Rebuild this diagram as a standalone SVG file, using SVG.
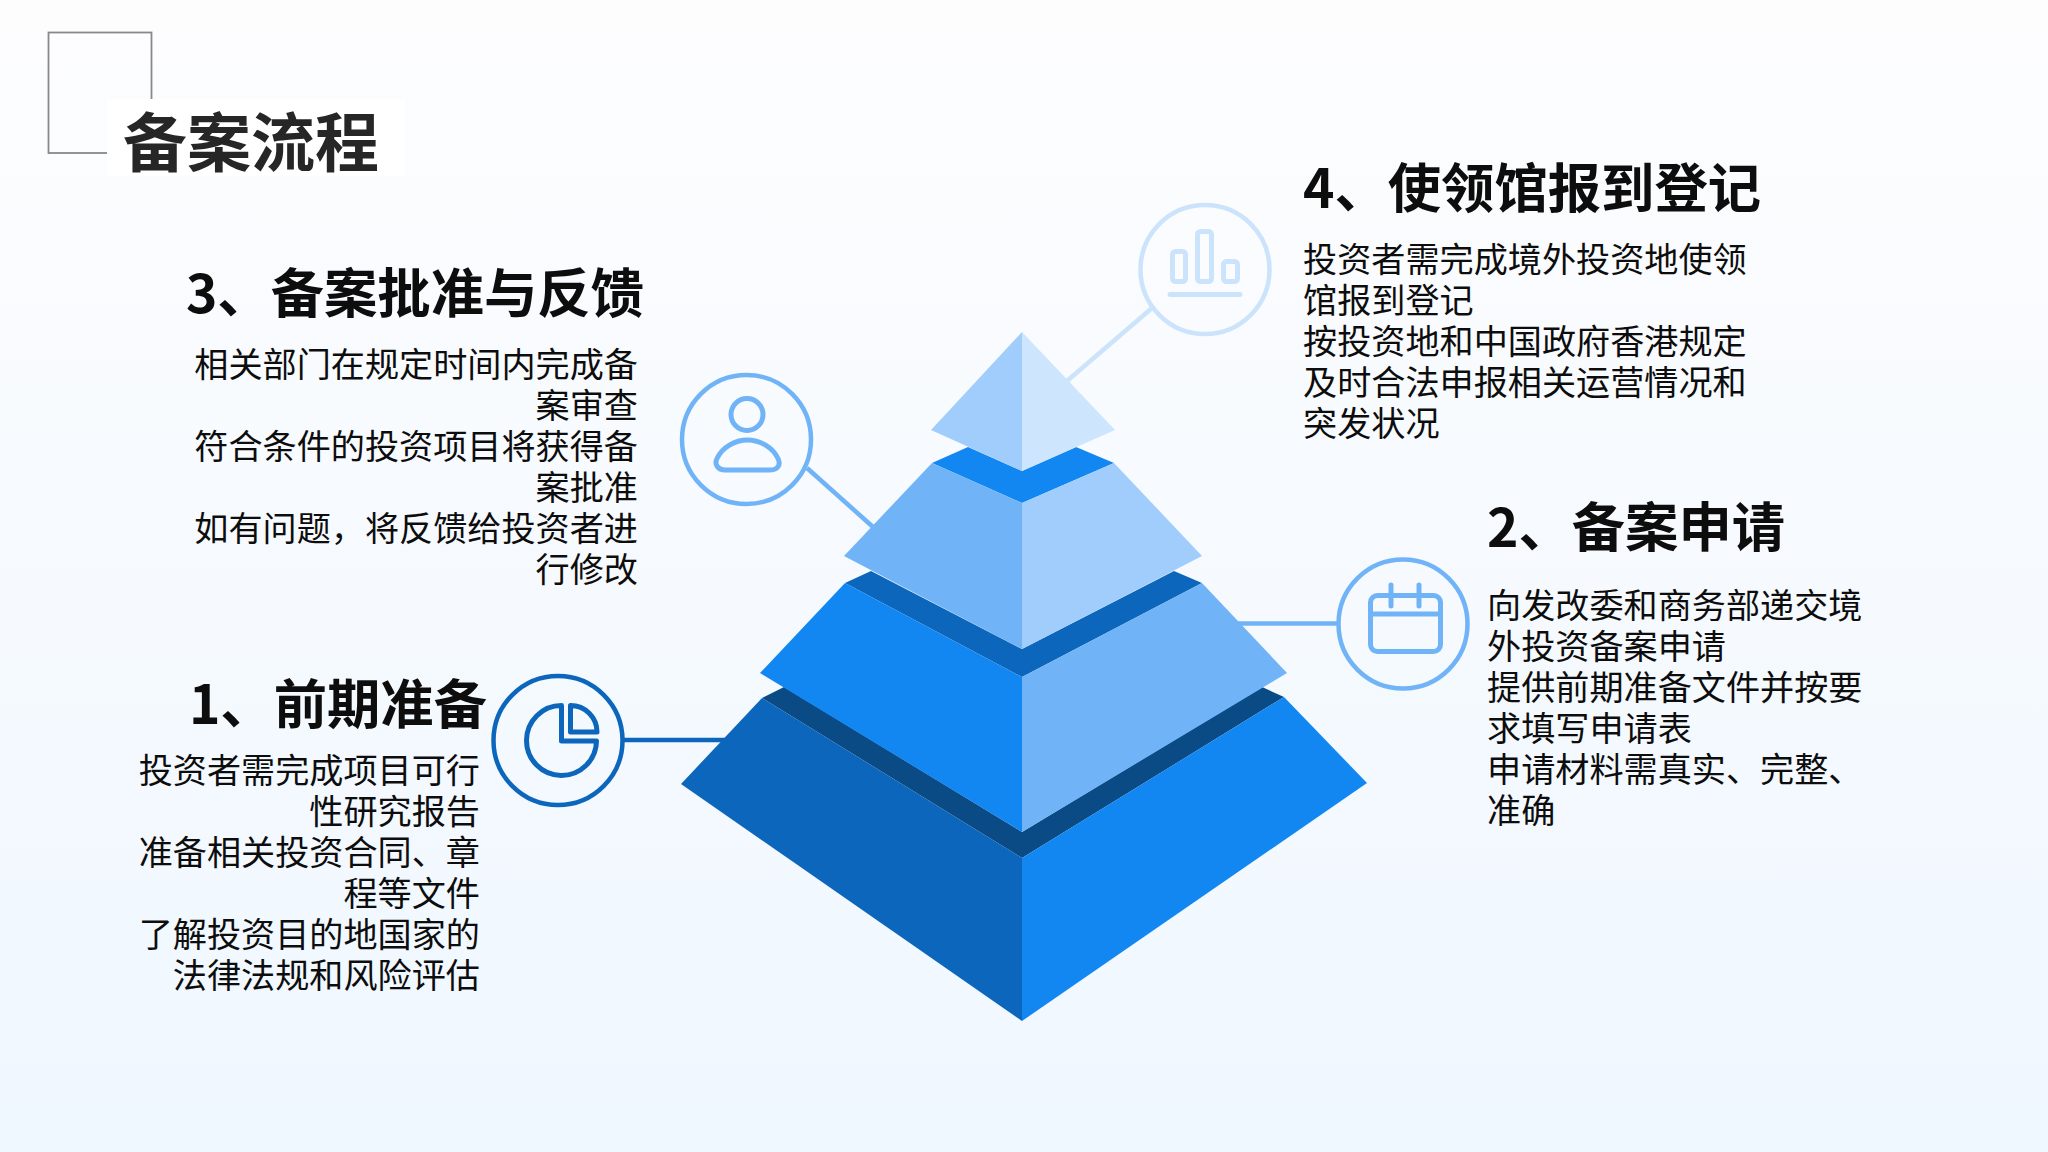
<svg xmlns="http://www.w3.org/2000/svg" width="2048" height="1152" viewBox="0 0 2048 1152">
<defs>
<linearGradient id="bg" x1="0" y1="0" x2="0" y2="1"><stop offset="0" stop-color="#fdfdfe"/><stop offset="1" stop-color="#eff7ff"/></linearGradient>
</defs>
<style>
text{font-family:"Noto Sans CJK SC","Noto Sans",sans-serif;}
.h{font-size:53.33px;font-weight:700;fill:#0d0d0d;}
.b{font-size:34.13px;font-weight:400;fill:#0d0d0d;}
.e{text-anchor:end;}
.ic{fill:none;stroke-width:5;stroke-linejoin:round;stroke-linecap:round;}
.ring{fill:none;stroke-width:4.5;}
.c1{stroke:#0c66bb;}.c2{stroke:#70b4f7;}.c3{stroke:#70b4f7;}.c4{stroke:#cce4fb;}
.cn{stroke-width:4.5;fill:none;}
</style>
<rect width="2048" height="1152" fill="url(#bg)"/>
<g id="title">
<rect x="48.500" y="32.500" width="103" height="120.500" fill="none" stroke="#888" stroke-width="1.800"/>
<rect x="107" y="99" width="298" height="77" fill="#fff"/>
<text x="123" y="166" style="font-size:64px;font-weight:700" fill="#262626">备案流程</text>
</g>
<g id="connectors">
<line class="cn c1" x1="624" y1="740" x2="735" y2="740"/>
<line class="cn c2" x1="1337" y1="623.500" x2="1230" y2="623.500"/>
<line class="cn c3" x1="807" y1="468" x2="882" y2="535"/>
<line class="cn c4" x1="1152" y1="308" x2="1060" y2="387"/>
</g>
<g id="pyramid">
<polygon id="band3" points="784,687 762,698 1022,858 1284,697 1262,687 1022,832" fill="#0a4a85"/>
<polygon id="layer4-left" points="681,784 762,698 1022,858 1022,1021" fill="#0c66bb"/>
<polygon id="layer4-right" points="1367,783 1284,697 1022,858 1022,1021" fill="#1287f1"/>
<polygon id="band2" points="871,571 845,583 1022,677 1202,583 1174,571 1022,649" fill="#0c66bb"/>
<polygon id="layer3-left" points="760,673 845,583 1022,677 1022,832" fill="#1287f1"/>
<polygon id="layer3-right" points="1287,673 1202,583 1022,677 1022,832" fill="#70b4f7"/>
<polygon id="band1" points="968,447 932,463 1022,503 1114,463 1076,447 1022,471" fill="#1287f1"/>
<polygon id="layer2-left" points="844,556 932,463 1022,503 1022,649" fill="#70b4f7"/>
<polygon id="layer2-right" points="1202,556 1114,463 1022,503 1022,649" fill="#a0cdfb"/>
<polygon id="top-left" points="1022,332 931,430 1022,471" fill="#a0cdfb"/>
<polygon id="top-right" points="1022,332 1115,430 1022,471" fill="#cde5fd"/>
</g>
<g id="node1">
<circle class="ring c1" cx="558" cy="740.500" r="64.500"/>
<path class="ic c1" d="M561.500,705.500V741H596.500A35,35 0 1 1 561.500,705.500Z"/>
<path class="ic c1" d="M570.500,705.500V732H597A26.500,26.500 0 0 0 570.500,705.500Z"/>
<text class="h e" x="487" y="724">1、前期准备</text>
<text class="b e"><tspan x="480" y="782.500">投资者需完成项目可行</tspan><tspan x="480" y="823.500">性研究报告</tspan><tspan x="480" y="864.500">准备相关投资合同、章</tspan><tspan x="480" y="905.500">程等文件</tspan><tspan x="480" y="946.500">了解投资目的地国家的</tspan><tspan x="480" y="987.500">法律法规和风险评估</tspan></text>
</g>
<g id="node2">
<circle class="ring c2" cx="1403" cy="624" r="64.500"/>
<rect class="ic c2" x="1370.500" y="595.500" width="70" height="56" rx="7"/>
<path class="ic c2" d="M1370.500,614H1440.500M1391,585V606M1419,585V606"/>
<text class="h" x="1487" y="547">2、备案申请</text>
<text class="b"><tspan x="1487" y="617.500">向发改委和商务部递交境</tspan><tspan x="1487" y="658.500">外投资备案申请</tspan><tspan x="1487" y="699.500">提供前期准备文件并按要</tspan><tspan x="1487" y="740.500">求填写申请表</tspan><tspan x="1487" y="781.500">申请材料需真实、完整、</tspan><tspan x="1487" y="822.500">准确</tspan></text>
</g>
<g id="node3">
<circle class="ring c3" cx="746.500" cy="439.500" r="64.500"/>
<circle class="ic c3" cx="747" cy="414.500" r="16"/>
<path class="ic c3" d="M725,470H770C778,470 781,464.500 778,458.500C773,447.500 760,440 747.500,440C735,440 722,447.500 717,458.500C714,464.500 718,470 725,470Z"/>
<text class="h e" x="644" y="313">3、备案批准与反馈</text>
<text class="b e"><tspan x="638" y="376.500">相关部门在规定时间内完成备</tspan><tspan x="638" y="417.500">案审查</tspan><tspan x="638" y="458.500">符合条件的投资项目将获得备</tspan><tspan x="638" y="499.500">案批准</tspan><tspan x="638" y="540.500">如有问题，将反馈给投资者进</tspan><tspan x="638" y="581.500">行修改</tspan></text>
</g>
<g id="node4">
<circle class="ring c4" cx="1205" cy="269.500" r="64.500"/>
<rect class="ic c4" x="1172.500" y="251.500" width="13" height="30" rx="3"/>
<rect class="ic c4" x="1197.500" y="231.500" width="14" height="50" rx="3"/>
<rect class="ic c4" x="1223.500" y="261.500" width="14" height="20" rx="3"/>
<path class="ic c4" d="M1170,294.500H1240"/>
<text class="h" x="1303" y="208">4、使领馆报到登记</text>
<text class="b"><tspan x="1303" y="271.500">投资者需完成境外投资地使领</tspan><tspan x="1303" y="312.500">馆报到登记</tspan><tspan x="1303" y="353.500">按投资地和中国政府香港规定</tspan><tspan x="1303" y="394.500">及时合法申报相关运营情况和</tspan><tspan x="1303" y="435.500">突发状况</tspan></text>
</g>
</svg>
